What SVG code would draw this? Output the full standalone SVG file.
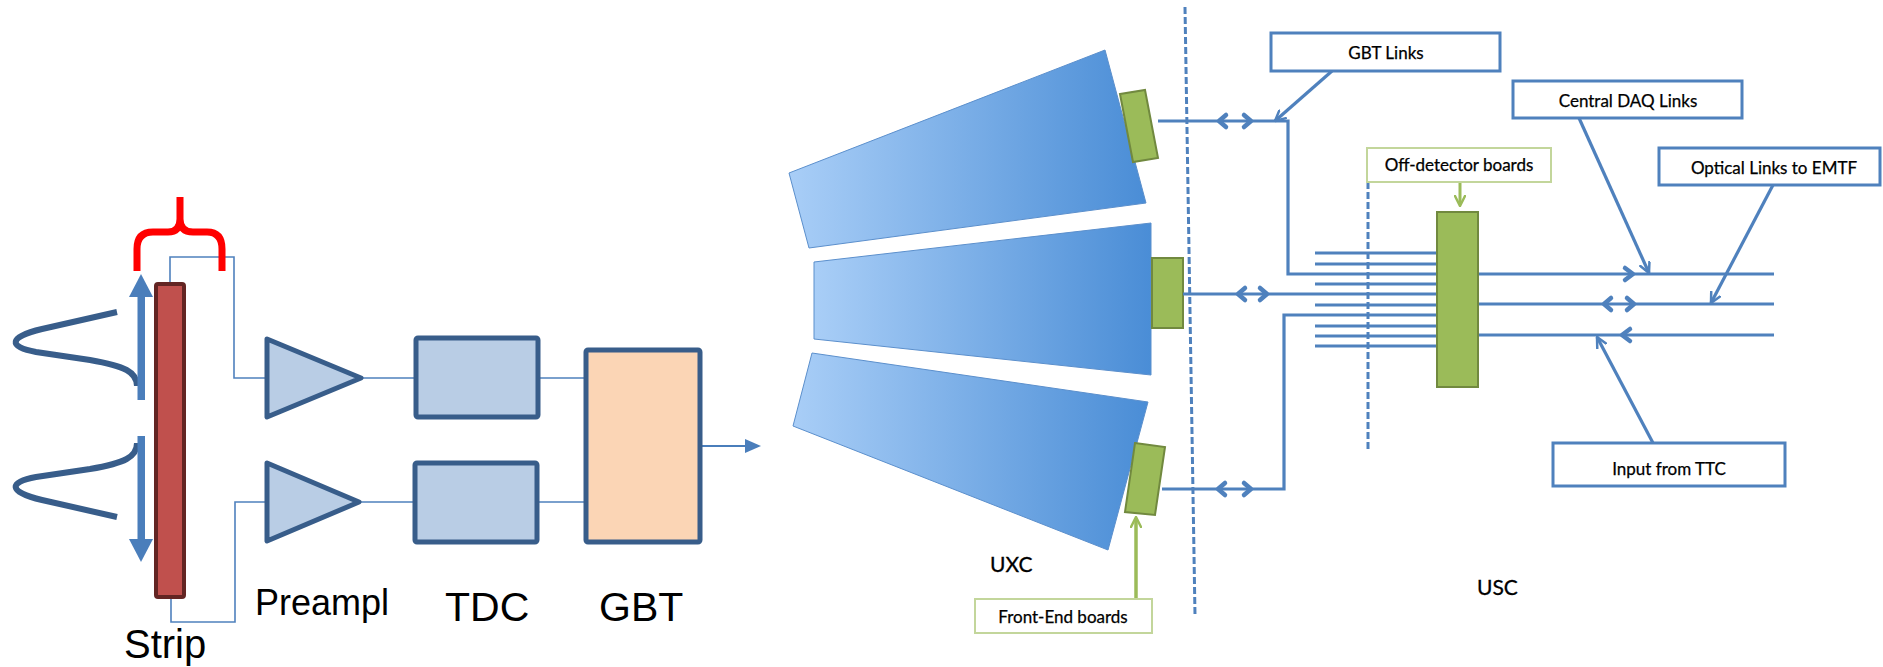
<svg xmlns="http://www.w3.org/2000/svg" width="1883" height="667" viewBox="0 0 1883 667">
  <style>
    .wire { fill: none; stroke: #4F81BD; stroke-width: 1.6; }
    .blk { stroke: #385D8A; stroke-width: 5; stroke-linejoin: round; }
    .big { font-family: "Liberation Sans", Arial, sans-serif; fill: #000; }
    .link { fill: none; stroke: #4F81BD; stroke-width: 3.2; }
    .chev { fill: none; stroke: #4F81BD; stroke-width: 4.5; stroke-linecap: round; stroke-linejoin: round; }
    .dash { fill: none; stroke: #4F81BD; stroke-width: 3; stroke-dasharray: 7 3; }
    .lbl { fill: #fff; stroke: #4F81BD; stroke-width: 3; }
    .glbl { fill: #fff; stroke: #C3D69B; stroke-width: 2; }
    .ltxt { font-family: Lato, "Open Sans", sans-serif; font-size: 17px; fill: #000; stroke: #000; stroke-width: 0.25; text-anchor: middle; }
    .zone { font-family: Lato, "Open Sans", sans-serif; font-size: 21px; fill: #000; stroke: #000; stroke-width: 0.3; }
    .board { fill: #9BBB59; stroke: #71893F; stroke-width: 2; }
    .wedge { fill: url(#wedgeGrad); stroke: #5B8FCC; stroke-width: 1; }
  </style>
  <defs>
    <linearGradient id="wedgeGrad" x1="0" y1="0" x2="1" y2="0">
      <stop offset="0" stop-color="#A9CEF7"/>
      <stop offset="1" stop-color="#4A8DD6"/>
    </linearGradient>
    <marker id="openHead" viewBox="0 0 12 12" refX="11" refY="6" markerWidth="12" markerHeight="12" markerUnits="userSpaceOnUse" orient="auto">
      <path d="M1,1 L11,6 L1,11" fill="none" stroke="#4F81BD" stroke-width="2.5" stroke-linecap="round" stroke-linejoin="round"/>
    </marker>
    <marker id="greenHead" viewBox="0 0 12 12" refX="10" refY="6" markerWidth="12" markerHeight="12" markerUnits="userSpaceOnUse" orient="auto">
      <path d="M1,1 L11,6 L1,11" fill="none" stroke="#9BBB59" stroke-width="2.5" stroke-linecap="round" stroke-linejoin="round"/>
    </marker>
  </defs>

  <rect width="1883" height="667" fill="#fff"/>

  <!-- ===== Readout chain ===== -->
  <g id="connectors-left">
    <path class="wire" d="M170,284 L170,257 L234,257 L234,378 L267,378"/>
    <path class="wire" d="M171,597 L171,622 L235,622 L235,502 L267,502"/>
    <path class="wire" d="M361,378 L416,378 M538,378 L586,378"/>
    <path class="wire" d="M359,502 L415,502 M537,502 L586,502"/>
    <line x1="700" y1="446" x2="748" y2="446" stroke="#4A7EBB" stroke-width="2"/>
    <polygon points="745,439 761,446 745,453" fill="#4A7EBB"/>
  </g>

  <g id="signal">
    <!-- induced charge profiles -->
    <path d="M117,312 L42,329 C8,337 8,347 36,352 L90,360 C125,366 137,372 137,386" fill="none" stroke="#385D8A" stroke-width="6"/>
    <path d="M137,443 C137,457 125,463 90,469 L36,477 C8,482 8,492 42,500 L117,517" fill="none" stroke="#385D8A" stroke-width="6"/>
    <!-- propagation directions -->
    <rect x="137.5" y="296" width="7.5" height="104" fill="#4A7EBB"/>
    <polygon points="129,297 153,297 141,274" fill="#4A7EBB"/>
    <rect x="137.5" y="436" width="7.5" height="104" fill="#4A7EBB"/>
    <polygon points="129,539 153,539 141,562" fill="#4A7EBB"/>
    <!-- brace -->
    <path d="M137,271 L137,249 Q137,232 153,232 L168,232 Q180,232 180,219 L180,197 M180,219 Q180,232 193,232 L207,232 Q222,232 222,249 L222,271" fill="none" stroke="#FF0000" stroke-width="7" stroke-linejoin="round"/>
  </g>

  <g id="strip">
    <rect x="156" y="284" width="28" height="313" rx="2" fill="#C0504D" stroke="#632523" stroke-width="4"/>
    <text class="big" x="124" y="658" font-size="40">Strip</text>
  </g>

  <g id="preamp-top">
    <polygon class="blk" points="267,339 361,378 267,417" fill="#B9CDE5"/>
  </g>
  <g id="preamp-bottom">
    <polygon class="blk" points="267,463 359,502 267,541" fill="#B9CDE5"/>
    <text class="big" x="255" y="615" font-size="36">Preampl</text>
  </g>

  <g id="tdc-top">
    <rect class="blk" x="416" y="338" width="122" height="79" rx="2" fill="#B9CDE5"/>
  </g>
  <g id="tdc-bottom">
    <rect class="blk" x="415" y="463" width="122" height="79" rx="2" fill="#B9CDE5"/>
    <text class="big" x="445" y="621" font-size="41">TDC</text>
  </g>

  <g id="gbt">
    <rect class="blk" x="586" y="350" width="114" height="192" rx="2" fill="#FBD5B5"/>
    <text class="big" x="599" y="621" font-size="41">GBT</text>
  </g>

  <!-- ===== Detector and links ===== -->
  <g id="chamber-top">
    <polygon class="wedge" points="1105,50 1146,203 809,248 789,173"/>
  </g>
  <g id="chamber-middle">
    <polygon class="wedge" points="814,262 1151,223 1151,375 814,339"/>
  </g>
  <g id="chamber-bottom">
    <polygon class="wedge" points="812,353 1148,402 1108,550 793,426"/>
  </g>

  <g id="fe-board-top"><polygon class="board" points="1120,94 1145,90 1158,158 1133,162"/></g>
  <g id="fe-board-middle"><rect class="board" x="1152" y="258" width="31" height="70"/></g>
  <g id="fe-board-bottom"><polygon class="board" points="1135,443 1165,447 1155,515 1125,512"/></g>

  <g id="boundaries">
    <line class="dash" x1="1185" y1="7" x2="1195" y2="615"/>
    <line class="dash" x1="1368" y1="182" x2="1368" y2="451"/>
  </g>

  <g id="connectors">
    <!-- front-end to off-detector -->
    <path class="link" d="M1158,121 L1288,121 L1288,274 L1437,274"/>
    <path class="link" d="M1183,294 L1437,294"/>
    <path class="link" d="M1162,489 L1284,489 L1284,315 L1437,315"/>
    <!-- other chamber inputs -->
    <path class="link" d="M1315,253 H1437 M1315,264 H1437 M1315,284 H1437 M1315,305 H1437 M1315,326 H1437 M1315,336 H1437 M1315,346 H1437"/>
    <!-- off-detector outputs -->
    <path class="link" d="M1478,274 H1774 M1478,304 H1774 M1478,335 H1774"/>
    <!-- direction marks -->
    <path class="chev" d="M1226,115 L1219,121 L1226,127 M1244,115 L1251,121 L1244,127"/>
    <path class="chev" d="M1245,288 L1238,294 L1245,300 M1260,288 L1267,294 L1260,300"/>
    <path class="chev" d="M1225,483 L1218,489 L1225,495 M1244,483 L1251,489 L1244,495"/>
    <path class="chev" d="M1625,268 L1633,274 L1625,280"/>
    <path class="chev" d="M1611,298 L1604,304 L1611,310 M1627,298 L1634,304 L1627,310"/>
    <path class="chev" d="M1630,329 L1622,335 L1630,341"/>
    <!-- label pointers -->
    <line class="link" x1="1332" y1="71" x2="1275" y2="121" marker-end="url(#openHead)"/>
    <line class="link" x1="1579" y1="118" x2="1649" y2="273" marker-end="url(#openHead)"/>
    <line class="link" x1="1773" y1="185" x2="1711" y2="303" marker-end="url(#openHead)"/>
    <line class="link" x1="1653" y1="443" x2="1597" y2="337" marker-end="url(#openHead)"/>
    <line x1="1460" y1="183" x2="1460" y2="205" stroke="#9BBB59" stroke-width="3" marker-end="url(#greenHead)"/>
    <line x1="1136" y1="599" x2="1136" y2="518" stroke="#9BBB59" stroke-width="3.5" marker-end="url(#greenHead)"/>
  </g>

  <g id="off-detector-board">
    <rect class="board" x="1437" y="212" width="41" height="175"/>
  </g>

  <g id="label-gbt-links">
    <rect class="lbl" x="1271" y="33" width="229" height="38"/>
    <text class="ltxt" x="1386" y="59">GBT Links</text>
  </g>
  <g id="label-central-daq">
    <rect class="lbl" x="1513" y="81" width="229" height="37"/>
    <text class="ltxt" x="1628" y="107">Central DAQ Links</text>
  </g>
  <g id="label-optical">
    <rect class="lbl" x="1659" y="148" width="221" height="37"/>
    <text class="ltxt" x="1774" y="174">Optical Links to EMTF</text>
  </g>
  <g id="label-off-detector">
    <rect class="glbl" x="1367" y="148" width="184" height="34"/>
    <text class="ltxt" x="1459" y="171" font-size="16">Off-detector boards</text>
  </g>
  <g id="label-front-end">
    <rect class="glbl" x="975" y="599" width="177" height="34"/>
    <text class="ltxt" x="1063" y="623" font-size="15">Front-End boards</text>
  </g>
  <g id="label-ttc">
    <rect class="lbl" x="1553" y="443" width="232" height="43"/>
    <text class="ltxt" x="1669" y="475">Input from TTC</text>
  </g>
  <g id="zones">
    <text class="zone" x="990" y="572">UXC</text>
    <text class="zone" x="1477" y="595">USC</text>
  </g>
</svg>
